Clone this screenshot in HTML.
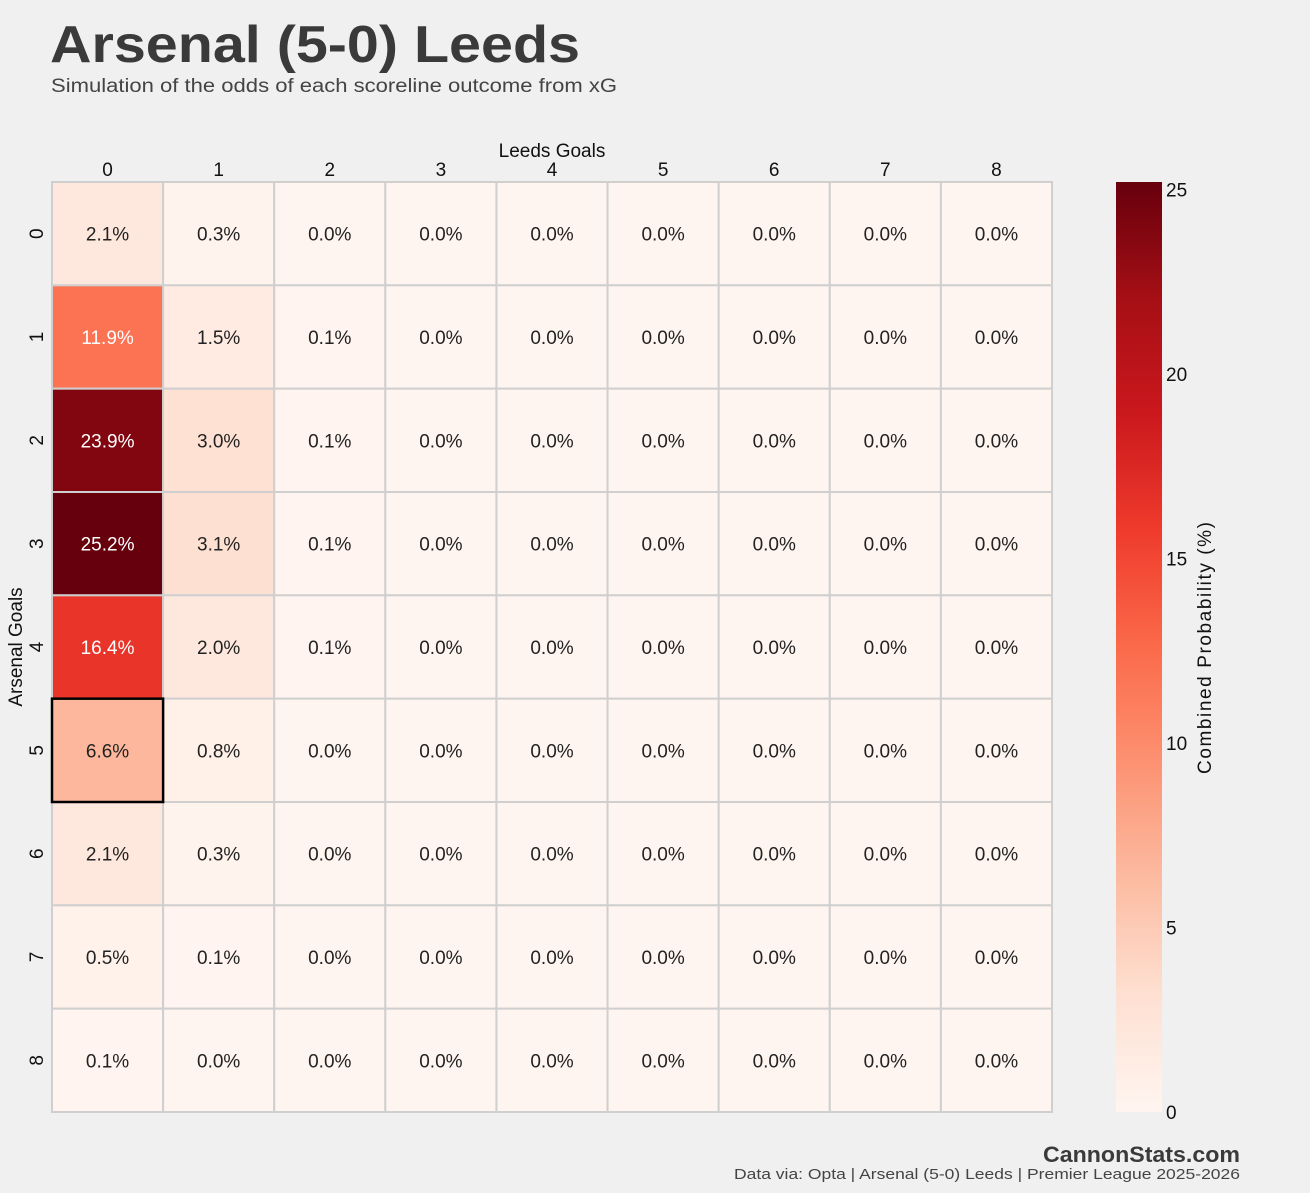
<!DOCTYPE html>
<html><head><meta charset="utf-8"><style>
body{margin:0;background:#f0f0f0;width:1310px;height:1188px;overflow:hidden;font-family:"Liberation Sans",sans-serif;}
</style></head><body>
<svg id="c" width="1310" height="1188" xmlns="http://www.w3.org/2000/svg">
<text x="50" y="62" font-size="52" font-weight="bold" fill="#3a3a3a" textLength="530" lengthAdjust="spacingAndGlyphs">Arsenal (5-0) Leeds</text>
<text x="51" y="92" font-size="19" fill="#444" textLength="566" lengthAdjust="spacingAndGlyphs">Simulation of the odds of each scoreline outcome from xG</text>
<text x="552" y="157" font-size="19" fill="#111" text-anchor="middle">Leeds Goals</text>
<text transform="translate(22,647) rotate(-90)" font-size="19" fill="#111" text-anchor="middle">Arsenal Goals</text>
<text transform="translate(1211,648) rotate(-90)" font-size="19" fill="#111" text-anchor="middle" textLength="252">Combined Probability (%)</text>
<text x="1240" y="1162" font-size="22" font-weight="bold" fill="#3a3a3a" text-anchor="end" textLength="197" lengthAdjust="spacingAndGlyphs">CannonStats.com</text>
<text x="734" y="1179" font-size="15" fill="#444" textLength="506" lengthAdjust="spacingAndGlyphs">Data via: Opta | Arsenal (5-0) Leeds | Premier League 2025-2026</text>
<g id="hm"></g>
<defs><linearGradient id="cg" x1="0" y1="1" x2="0" y2="0">
<stop offset="0" stop-color="#fff5f0"/><stop offset="0.125" stop-color="#fee0d2"/><stop offset="0.25" stop-color="#fcbba1"/><stop offset="0.375" stop-color="#fc9272"/><stop offset="0.5" stop-color="#fb6a4a"/><stop offset="0.625" stop-color="#ef3b2c"/><stop offset="0.75" stop-color="#cb181d"/><stop offset="0.875" stop-color="#a50f15"/><stop offset="1" stop-color="#67000d"/>
</linearGradient></defs>
<rect x="1116" y="182" width="46" height="930" fill="url(#cg)"/>
<g id="cb"></g>
</svg>
<script>
const leedsGoals=[0,1,2,3,4,5,6,7,8];
const arsenalGoals=[0,1,2,3,4,5,6,7,8];
const probRow0=[2.1,0.3,0,0,0,0,0,0,0];
const probRow1=[11.9,1.5,0.1,0,0,0,0,0,0];
const probRow2=[23.9,3.0,0.1,0,0,0,0,0,0];
const probRow3=[25.2,3.1,0.1,0,0,0,0,0,0];
const probRow4=[16.4,2.0,0.1,0,0,0,0,0,0];
const probRow5=[6.6,0.8,0,0,0,0,0,0,0];
const probRow6=[2.1,0.3,0,0,0,0,0,0,0];
const probRow7=[0.5,0.1,0,0,0,0,0,0,0];
const probRow8=[0.1,0,0,0,0,0,0,0,0];
const colorbarTicks=[0,5,10,15,20,25];
const actualScore=[5,0];
const vmax=25.2;
const probs=[probRow0,probRow1,probRow2,probRow3,probRow4,probRow5,probRow6,probRow7,probRow8];
const NS="http://www.w3.org/2000/svg";
const X0=52,X1=1052,Y0=182,Y1=1112;
const cw=(X1-X0)/leedsGoals.length, ch=(Y1-Y0)/arsenalGoals.length;
const xPos=i=>X0+i*cw, yPos=j=>Y0+j*ch;
const cbY=v=>Y1-(v/vmax)*(Y1-Y0);
const stops=["#fff5f0","#fee0d2","#fcbba1","#fc9272","#fb6a4a","#ef3b2c","#cb181d","#a50f15","#67000d"];
function hex(h){return [1,3,5].map(k=>parseInt(h.substr(k,2),16));}
function color(v){let t=Math.max(0,Math.min(1,v/vmax))*(stops.length-1);let i=Math.min(Math.floor(t),stops.length-2),f=t-i;const a=hex(stops[i]),b=hex(stops[i+1]);return "rgb("+a.map((x,k)=>Math.round(x+(b[k]-x)*f)).join(",")+")";}
function mk(tag,attrs,parent){const e=document.createElementNS(NS,tag);for(const k in attrs)e.setAttribute(k,attrs[k]);parent.appendChild(e);return e;}
const hm=document.getElementById('hm');
arsenalGoals.forEach((ag,r)=>{leedsGoals.forEach((lg,c)=>{
 const v=probs[r][c];
 const rect=mk('rect',{x:xPos(c),y:yPos(r),width:cw,height:ch,fill:color(v),stroke:'#cfcfcf','stroke-width':2},hm);
 
 
 const t=mk('text',{x:xPos(c)+cw/2,y:yPos(r)+ch/2+7,'text-anchor':'middle','font-size':19,fill:v>10?'#fff':'#222'},hm);
 t.textContent=v.toFixed(1)+'%';
 
 
});});
leedsGoals.forEach((g,c)=>{const t=mk('text',{x:xPos(c)+cw/2,y:176,'text-anchor':'middle','font-size':19,fill:'#111'},hm);t.textContent=g;
 
 });
arsenalGoals.forEach((g,r)=>{const t=mk('text',{transform:'translate(43,'+(yPos(r)+ch/2)+') rotate(-90)','text-anchor':'middle','font-size':19,fill:'#111'},hm);t.textContent=g;
 
 });
const hl=mk('rect',{x:xPos(actualScore[1]),y:yPos(actualScore[0]),width:cw,height:ch,fill:'none',stroke:'#000','stroke-width':2.5},hm);


const cb=document.getElementById('cb');
colorbarTicks.forEach(v=>{
 const t=mk('text',{x:1166,y:cbY(v)+7,'font-size':19,fill:'#111'},cb);t.textContent=v;
 
 });
</script>
</body></html>
